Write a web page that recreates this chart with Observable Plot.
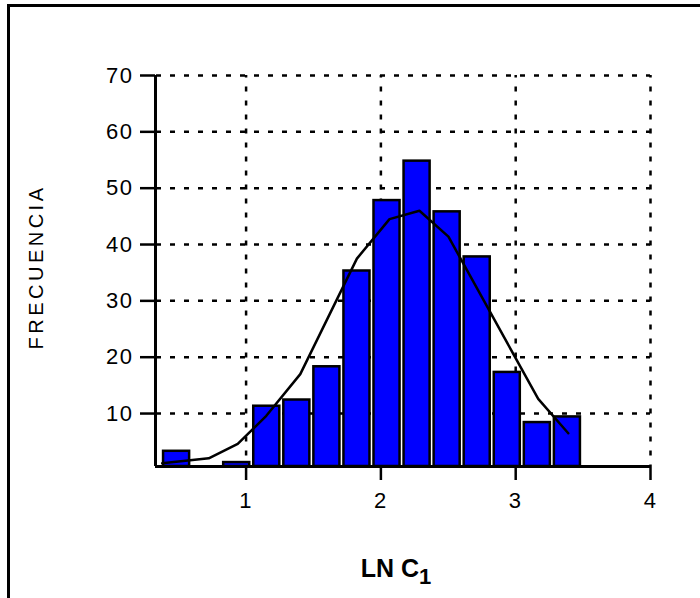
<!DOCTYPE html>
<html><head><meta charset="utf-8">
<script src="https://cdn.jsdelivr.net/npm/d3@7"></script>
<script src="https://cdn.jsdelivr.net/npm/@observablehq/plot@0.6"></script>
<style>
body{margin:0;background:#fff;}
#wrap{position:relative;width:700px;height:598px;overflow:hidden;background:#fff;}
#frame{position:absolute;left:7px;top:4px;width:720px;height:720px;border:3px solid #000;box-sizing:border-box;}
#chart{position:absolute;left:0;top:0;}
</style></head><body>
<div id="wrap"><div id="frame"></div><div id="chart"></div></div>
<script>
// Histogram bins (edges) and frequencies
const binEdges = [0.373, 0.596, 0.819, 1.042, 1.265, 1.488, 1.711, 1.934, 2.157, 2.380, 2.603, 2.826, 3.049, 3.272, 3.495];
const counts   = [3.3, 0, 1.3, 11.3, 12.4, 18.3, 35.3, 47.8, 54.8, 45.8, 37.8, 17.3, 8.4, 9.4];
// Fitted curve vertices
const curveX = [0.378, 0.723, 0.938, 1.15, 1.402, 1.822, 2.064, 2.286, 2.501, 3.167, 3.39];
const curveY = [1.17, 2.06, 4.6, 9.6, 17.0, 37.5, 44.5, 46.0, 41.4, 12.6, 6.5];
const xTicks = [1, 2, 3, 4];
const yTicks = [10, 20, 30, 40, 50, 60, 70];
const xDomain = [0.328, 4];
const yDomain = [0.6, 70];
const yLabel = "FRECUENCIA";
const xLabelMain = "LN C";
const xLabelSub = "1";

const bars = counts.map((c, i) => ({x1: binEdges[i], x2: binEdges[i + 1], y: c})).filter(d => d.y > 0);
const curve = curveX.map((x, i) => ({x, y: curveY[i]}));

const plot = Plot.plot({
  width: 700, height: 598,
  marginLeft: 155, marginRight: 50, marginTop: 75, marginBottom: 132,
  style: {fontFamily: "'Liberation Sans', Arial, sans-serif", color: "#000", background: "transparent"},
  x: {domain: xDomain},
  y: {domain: yDomain, clamp: true},
  marks: [
    Plot.gridY(yTicks, {stroke: "#000", strokeOpacity: 1, strokeWidth: 2.5, strokeDasharray: "5,9", strokeDashoffset: -1}),
    Plot.gridX(xTicks, {stroke: "#000", strokeOpacity: 1, strokeWidth: 2.5, strokeDasharray: "5,9", strokeDashoffset: 2.5}),
    Plot.rectY(bars, {x1: "x1", x2: "x2", y: "y", fill: "#0000ff", stroke: "#000", strokeWidth: 2.5, insetLeft: 2, insetRight: 2}),
    Plot.line(curve, {x: "x", y: "y", stroke: "#000", strokeWidth: 2.5}),
    Plot.ruleX([xDomain[0]], {stroke: "#000", strokeWidth: 3}),
    Plot.ruleY([yDomain[0]], {stroke: "#000", strokeWidth: 3}),
    Plot.axisY(yTicks, {tickSize: 15, tickPadding: 7, strokeWidth: 2.5, label: null, tickFormat: d => String(d)}),
    Plot.axisX(xTicks, {tickSize: 14, tickPadding: 12, strokeWidth: 2.5, label: null, tickFormat: d => String(d)}),
    Plot.text([yLabel], {frameAnchor: "left", textAnchor: "middle", dx: -119, dy: -4, rotate: -90, fill: "#000"})
  ]
});

const svg = d3.select(plot);
svg.selectAll("g[aria-label='y-axis tick label'] text, g[aria-label='x-axis tick label'] text")
  .style("font-size", "22px").style("letter-spacing", "1.5px");
svg.selectAll("g[aria-label='text'] text")
  .style("font-size", "20px").style("letter-spacing", "3.5px");

const t = svg.append("text")
  .attr("x", 396).attr("y", 577)
  .attr("text-anchor", "middle")
  .style("font-family", "'Liberation Sans', Arial, sans-serif")
  .style("font-weight", "bold")
  .style("font-size", "25px")
  .attr("fill", "#000");
t.append("tspan").text(xLabelMain);
t.append("tspan").attr("dy", 7).style("font-size", "22px").text(xLabelSub);

document.getElementById("chart").appendChild(plot);
</script>
</body></html>
